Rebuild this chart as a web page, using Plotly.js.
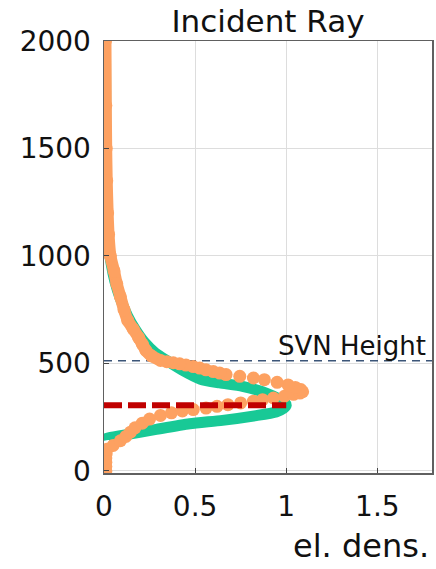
<!DOCTYPE html>
<html>
<head>
<meta charset="utf-8">
<script src="https://cdn.plot.ly/plotly-3.0.1.min.js"></script>
<style>html,body{margin:0;padding:0;background:#fff;overflow:hidden}#chart{width:436px;height:569px}</style>
</head>
<body>
<div id="chart"></div>
<script>
// Model profile (green line): electron density vs altitude
const modelAlt  = [140, 148, 165, 193, 219, 235, 257, 274, 290, 305, 320, 335, 362, 393, 409, 426, 468, 510, 550, 600, 660, 720, 800, 880, 960, 1050, 1200, 1500, 2000];
const modelDens = [0.0, 0.0, 0.10, 0.287, 0.47, 0.65, 0.835, 0.945, 0.985, 1.0, 0.99, 0.96, 0.89, 0.76, 0.635, 0.53, 0.43, 0.35, 0.28, 0.22, 0.17, 0.13, 0.09, 0.06, 0.04, 0.025, 0.015, 0.01, 0.008];

// Retrieved profile (orange dots)
const retrAlt  = [0, 20, 40, 60, 80, 100, 118, 140, 160, 180, 200, 222, 241, 258, 270, 279, 285, 292, 300, 308, 316, 324, 331, 339, 347, 356, 362, 368, 378, 388, 400, 412, 424, 432, 440, 448, 455, 462, 470, 478, 485, 492, 498, 503, 508, 514, 535, 560, 590, 620, 660, 700, 750, 810, 870, 930, 1000, 1100, 1200, 1350, 1500, 1700, 2000];
const retrDens = [0.01, 0.01, 0.01, 0.01, 0.012, 0.015, 0.05, 0.09, 0.12, 0.145, 0.17, 0.21, 0.25, 0.31, 0.37, 0.43, 0.49, 0.56, 0.62, 0.68, 0.75, 0.82, 0.87, 0.93, 0.99, 1.04, 1.075, 1.09, 1.08, 1.05, 1.01, 0.95, 0.88, 0.82, 0.745, 0.67, 0.635, 0.60, 0.56, 0.525, 0.49, 0.45, 0.415, 0.38, 0.345, 0.31, 0.26, 0.23, 0.21, 0.19, 0.16, 0.13, 0.11, 0.09, 0.07, 0.055, 0.035, 0.025, 0.02, 0.015, 0.012, 0.01, 0.008];

// Reference levels
const peakAlt = 305;
const peakDensRange = [0, 1.0];
const svnHeight = 512;
const svnDensRange = [0, 1.8];

const xTicks = [0, 0.5, 1, 1.5];
const xTickText = ['0', '0.5', '1', '1.5'];
const yTicks = [0, 500, 1000, 1500, 2000];
const yTickText = ['0', '500', '1000', '1500', '2000'];

const FONT = 'DejaVu Sans, Verdana, sans-serif';
const ORANGE = 'rgb(253,161,97)';

// continuous thick band where the retrieved samples are dense
function subset(lo, hi) {
  const xs = [], ys = [];
  retrAlt.forEach((a, i) => { if (a >= lo && a <= hi) { xs.push(retrDens[i]); ys.push(a); } });
  return {x: xs, y: ys};
}
const tail = subset(510, 2000);
const base = subset(0, 118);

const traces = [
  {
    x: modelDens, y: modelAlt, type: 'scatter', mode: 'lines',
    line: {color: 'rgb(24,201,150)', width: 11, shape: 'spline', smoothing: 0.6},
    hoverinfo: 'skip', showlegend: false
  },
  {
    x: svnDensRange, y: [svnHeight, svnHeight], type: 'scatter', mode: 'lines',
    line: {color: '#3b5578', width: 1.5, dash: '8px,6px'},
    hoverinfo: 'skip', showlegend: false
  },
  {
    x: tail.x, y: tail.y, type: 'scatter', mode: 'lines',
    line: {color: ORANGE, width: 12, shape: 'spline', smoothing: 0.6},
    hoverinfo: 'skip', showlegend: false
  },
  {
    x: base.x, y: base.y, type: 'scatter', mode: 'lines',
    line: {color: ORANGE, width: 10},
    hoverinfo: 'skip', showlegend: false
  },
  {
    x: retrDens, y: retrAlt, type: 'scatter', mode: 'markers',
    marker: {color: ORANGE, size: 13},
    hoverinfo: 'skip', showlegend: false
  },
  {
    x: peakDensRange, y: [peakAlt, peakAlt], type: 'scatter', mode: 'lines',
    line: {color: '#c00000', width: 6, dash: '18px,6px'},
    hoverinfo: 'skip', showlegend: false
  }
];

const axisCommon = {
  showline: true, mirror: true, linecolor: '#606060', linewidth: 1.5,
  showgrid: true, gridcolor: '#dddddd', gridwidth: 1,
  zeroline: false, ticks: 'inside', ticklen: 5, tickcolor: '#444',
  tickfont: {family: FONT, size: 28, color: '#111111'}
};

const layout = {
  width: 436, height: 569,
  margin: {l: 104, r: 4, t: 41, b: 96, pad: 0},
  paper_bgcolor: '#ffffff', plot_bgcolor: '#ffffff',
  title: {
    text: 'Incident Ray', xref: 'paper', x: 0.5, xanchor: 'center',
    yref: 'container', y: 0.962, yanchor: 'middle',
    font: {family: FONT, size: 31, color: '#111111'}
  },
  xaxis: Object.assign({}, axisCommon, {
    range: [0, 1.8], tickmode: 'array', tickvals: xTicks, ticktext: xTickText,
    ticklabelstandoff: 8
  }),
  yaxis: Object.assign({}, axisCommon, {
    range: [-10, 2000], tickmode: 'array', tickvals: yTicks, ticktext: yTickText,
    ticklabelstandoff: 6
  }),
  annotations: [
    {
      text: 'SVN Height', xref: 'x', x: 1.8, xanchor: 'right', xshift: -4,
      yref: 'y', y: svnHeight, yanchor: 'bottom', yshift: -2, showarrow: false,
      font: {family: FONT, size: 26, color: '#111111'}
    },
    {
      text: 'el. dens.', xref: 'paper', x: 1.0, xanchor: 'right', xshift: -1,
      yref: 'paper', y: -0.169, yanchor: 'middle', showarrow: false,
      font: {family: FONT, size: 32, color: '#111111'}
    }
  ]
};

Plotly.newPlot('chart', traces, layout, {staticPlot: true, displayModeBar: false});
</script>
</body>
</html>
